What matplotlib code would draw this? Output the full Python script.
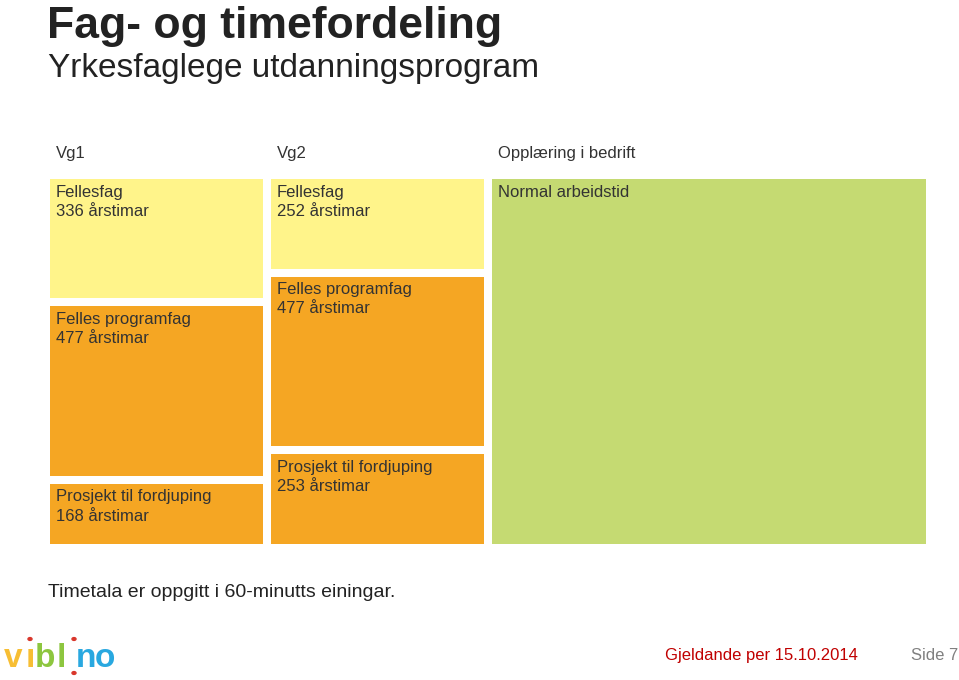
import matplotlib
matplotlib.use("Agg")
import matplotlib.pyplot as plt
import numpy as np

plt.rcParams["font.family"] = ["Liberation Sans", "DejaVu Sans"]

# data
columns = ["Vg1", "Vg2", "Opplæring i bedrift"]
block_names = ["Fellesfag", "Felles programfag", "Prosjekt til fordjuping"]
vg1_hours = [336, 477, 168]
vg2_hours = [252, 477, 253]
bedrift_label = "Normal arbeidstid"
unit = "årstimar"

YELLOW = "#FFF48A"
ORANGE = "#F5A623"
GREEN = "#C5DA72"
TEXT = "#333333"
block_colors = [YELLOW, ORANGE, ORANGE]

W, H = 959, 680


def fx(px):
    return px / W


def fy(py):
    return 1 - py / H


def main():
    fig = plt.figure(figsize=(W / 100, H / 100), dpi=100)
    fig.patch.set_facecolor("white")

    # plot area from pixel box
    left, right, top, bottom = 50, 926, 179, 544
    ax = fig.add_axes([fx(left), fy(bottom), fx(right - left), (bottom - top) / H])
    ax.axis("off")

    col_w = 1.0
    gap_x = 8 / 213
    gap_px = 8
    total = max(sum(vg1_hours), sum(vg2_hours))
    # gap in hour units so that blocks + 2 gaps fill the plot height
    gap_y = gap_px * total / ((bottom - top) - 2 * gap_px)
    y_max = total + 2 * gap_y

    ax.set_xlim(0, 4 * col_w + 3 * gap_x)
    ax.set_ylim(y_max, 0)

    off = dict(xytext=(4.3, -4.0), textcoords="offset points", ha="left", va="top",
               fontsize=12, color=TEXT, linespacing=1.35)

    for ci, hours in enumerate([vg1_hours, vg2_hours]):
        x0 = ci * (col_w + gap_x)
        bottoms = np.cumsum([0] + hours[:-1]) + np.arange(len(hours)) * gap_y
        ax.bar(x0, hours, width=col_w, bottom=bottoms, align="edge",
               color=block_colors, linewidth=0)
        for name, h, b in zip(block_names, hours, bottoms):
            ax.annotate(f"{name}\n{h} {unit}", xy=(x0, b), **off)

    x_green = 2 * (col_w + gap_x)
    ax.bar(x_green, y_max, width=2 * col_w + gap_x, bottom=0, align="edge",
           color=GREEN, linewidth=0)
    ax.annotate(bedrift_label, xy=(x_green, 0), **off)

    # column headers
    for ci, name in enumerate(columns):
        x0 = ci * (col_w + gap_x)
        ax.annotate(name, xy=(x0, 0), xytext=(4.3, 13), textcoords="offset points",
                    ha="left", va="bottom", fontsize=12, color=TEXT)

    # titles
    fig.text(fx(47), fy(38), "Fag- og timefordeling", fontsize=32, fontweight="bold",
             color="#222222", va="baseline")
    fig.text(fx(48), fy(77), "Yrkesfaglege utdanningsprogram", fontsize=24,
             color="#222222", va="baseline")
    fig.text(fx(48), fy(597), "Timetala er oppgitt i 60-minutts einingar.", fontsize=14,
             color="#222222", va="baseline")

    # footer
    fig.text(fx(665), fy(660), "Gjeldande per 15.10.2014", fontsize=12,
             color="#C00000", va="baseline")
    fig.text(fx(911), fy(660), "Side 7", fontsize=12, color="#808080", va="baseline")

    # logo
    logo = [("v", 13, "#F7BE34"), ("\u0131", 30, "#F7BE34"), ("b", 45, "#8DC63F"),
            ("l", 61, "#8DC63F"), ("n", 86, "#29A8E0"), ("o", 105, "#29A8E0")]
    for ch, px, c in logo:
        fig.text(fx(px), fy(667), ch, fontsize=24, fontweight="bold", color=c,
                 ha="center", va="baseline")
    for px, py in [(30, 639), (74, 639), (74, 673)]:
        fig.patches.append(plt.Circle((fx(px), fy(py)), 2 / W, transform=fig.transFigure,
                                      color="#D9362B"))

    fig.savefig("out.png", dpi=100, facecolor="white")


if __name__ == "__main__":
    main()
